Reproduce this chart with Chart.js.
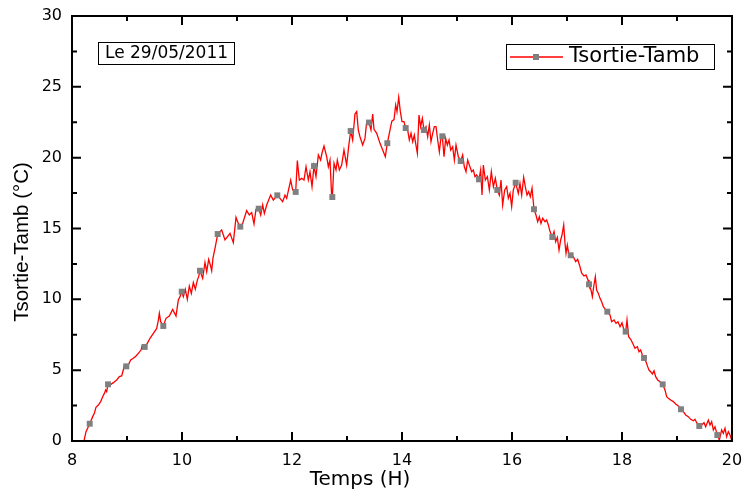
<!DOCTYPE html>
<html>
<head>
<meta charset="utf-8">
<script src="https://cdn.jsdelivr.net/npm/chart.js@4/dist/chart.umd.min.js"></script>
<style>
html,body{margin:0;padding:0;background:#fff;}
#c{display:block;}
</style>
</head>
<body>
<canvas id="c" width="745" height="491"></canvas>
<script>
// ---- Data ----
const times = [
8.218,8.255,8.322,8.376,8.406,8.436,8.479,8.521,8.558,8.588,8.612,8.630,8.655,8.691,8.752,8.812,8.861,8.903,8.933,8.952,
8.987,9.024,9.067,9.115,9.164,9.206,9.255,9.279,9.322,9.369,9.418,9.479,9.540,9.570,9.588,9.612,9.660,9.709,9.769,9.830,
9.891,9.933,9.964,9.995,10.024,10.060,10.097,10.133,10.170,10.206,10.242,10.279,10.303,10.327,10.376,10.418,10.449,10.485,10.521,10.540,
10.564,10.600,10.649,10.721,10.782,10.873,10.933,10.982,11.024,11.060,11.103,11.176,11.224,11.267,11.309,11.345,11.395,11.431,11.467,11.497,
11.540,11.612,11.661,11.733,11.782,11.830,11.873,11.903,11.976,12.012,12.067,12.097,12.133,12.176,12.218,12.255,12.297,12.327,12.364,12.400,
12.436,12.479,12.521,12.545,12.582,12.630,12.661,12.691,12.721,12.733,12.764,12.800,12.824,12.861,12.903,12.945,12.994,13.030,13.067,13.103,
13.145,13.176,13.206,13.236,13.285,13.327,13.358,13.400,13.436,13.467,13.491,13.540,13.600,13.649,13.697,13.733,13.776,13.815,13.855,13.885,
13.909,13.940,13.970,14.000,14.036,14.067,14.103,14.133,14.164,14.194,14.224,14.248,14.279,14.309,14.339,14.370,14.400,14.436,14.467,14.497,
14.527,14.558,14.588,14.618,14.649,14.679,14.703,14.733,14.764,14.794,14.824,14.855,14.885,14.921,14.952,14.982,15.024,15.067,15.103,15.133,
15.164,15.194,15.224,15.267,15.297,15.327,15.358,15.400,15.430,15.455,15.479,15.515,15.552,15.588,15.624,15.661,15.697,15.733,15.770,15.800,
15.830,15.867,15.903,15.933,15.964,15.994,16.024,16.067,16.115,16.145,16.176,16.212,16.242,16.273,16.303,16.333,16.364,16.400,16.436,16.467,
16.497,16.527,16.558,16.600,16.630,16.661,16.691,16.733,16.764,16.794,16.824,16.855,16.885,16.909,16.940,16.964,16.982,17.006,17.030,17.067,
17.115,17.158,17.194,17.236,17.267,17.309,17.345,17.382,17.400,17.436,17.461,17.485,17.515,17.539,17.570,17.600,17.630,17.661,17.697,17.733,
17.782,17.812,17.855,17.891,17.927,17.964,18.000,18.036,18.067,18.091,18.121,18.158,18.194,18.236,18.279,18.309,18.339,18.370,18.400,18.436,
18.467,18.491,18.521,18.552,18.582,18.612,18.649,18.691,18.740,18.782,18.812,18.842,18.885,18.933,18.976,19.024,19.073,19.115,19.158,19.206,
19.249,19.297,19.327,19.358,19.405,19.449,19.491,19.521,19.570,19.600,19.630,19.661,19.691,19.733,19.770,19.812,19.842,19.873,19.903,19.933,
19.964,19.994
];
const temps = [
0.00,0.66,1.22,1.72,1.95,2.38,2.54,2.78,3.13,3.36,3.60,3.48,4.00,3.95,4.12,4.31,4.54,4.59,5.01,5.36,
5.27,5.36,5.72,5.84,6.00,6.19,6.42,6.78,6.64,6.89,7.25,7.60,7.95,8.54,9.01,8.42,8.12,8.66,8.82,9.29,
8.82,9.95,10.19,10.54,10.19,10.71,10.00,10.94,10.42,11.18,10.71,11.36,11.60,12.02,11.48,12.60,11.95,12.82,12.35,12.02,
12.93,13.60,14.61,14.89,14.19,14.66,14.00,15.79,15.36,15.13,15.36,16.26,15.95,16.12,15.32,16.35,16.40,15.95,16.66,16.07,
16.66,17.36,17.01,17.34,17.13,16.89,17.36,17.13,18.42,17.72,17.58,19.79,18.42,18.54,18.42,19.36,18.42,19.01,17.95,19.41,
18.66,20.19,19.83,20.31,20.82,20.07,19.36,19.83,17.25,17.22,19.60,19.13,19.83,19.13,19.48,20.54,19.48,20.78,21.88,21.25,
23.08,23.25,21.95,21.48,20.89,21.36,22.54,22.48,21.95,23.08,22.00,21.72,21.01,20.54,20.07,21.02,21.83,22.58,22.69,23.72,
23.25,24.26,23.25,22.54,22.54,22.09,21.95,21.25,21.72,21.13,21.60,21.01,20.31,23.01,22.19,22.78,21.95,22.19,21.48,22.31,
21.13,21.72,22.19,22.19,21.25,20.42,21.25,21.51,20.07,21.36,20.89,21.25,20.54,20.78,19.83,20.89,20.07,19.76,20.19,19.36,
19.01,19.83,19.48,19.01,19.13,18.66,18.78,18.47,19.13,17.36,19.48,18.42,18.66,17.72,19.01,17.95,18.54,17.72,17.36,18.42,
16.66,17.72,17.95,17.13,17.48,16.54,17.72,18.23,17.48,18.19,17.36,18.61,17.95,17.36,17.60,17.25,17.84,16.36,15.95,15.48,
15.83,15.36,15.72,15.48,15.60,15.25,14.78,14.40,14.78,14.07,14.38,13.48,14.19,14.54,15.25,13.95,13.25,13.83,13.25,13.11,
13.01,12.66,12.82,12.30,11.84,11.65,11.72,11.36,11.06,10.66,10.19,10.89,11.60,10.66,10.42,10.07,9.83,9.48,9.29,9.13,
8.89,8.42,8.54,8.31,8.42,8.07,8.35,7.84,7.72,8.54,7.36,7.18,6.90,6.55,6.66,6.30,6.42,6.07,5.86,5.60,
5.25,5.01,4.89,4.73,4.96,4.54,4.31,4.19,4.00,3.60,3.13,3.01,2.89,2.78,2.61,2.47,2.24,2.07,1.84,1.72,
1.53,1.43,1.53,1.29,1.06,1.13,1.29,1.01,1.48,1.13,1.36,0.78,1.01,0.42,0.07,0.78,0.54,0.90,0.30,0.66,
0.42,0.07
];
// Every-n-th point symbols (grey squares)
const markTimes = [8.322,8.655,8.987,9.322,9.660,9.995,10.327,10.649,11.060,11.395,11.733,12.067,12.400,12.733,13.067,13.400,13.733,14.067,14.400,14.733,15.067,15.400,15.733,16.067,16.400,16.733,17.067,17.400,17.733,18.067,18.400,18.740,19.073,19.405,19.733];
const markTemps = [1.22,4.00,5.27,6.64,8.12,10.54,12.02,14.61,15.13,16.40,17.34,17.58,19.41,17.22,21.88,22.48,21.02,22.09,21.95,21.51,19.76,18.47,17.72,18.23,16.36,14.40,13.11,11.06,9.13,7.72,5.86,4.00,2.24,1.06,0.42];

const xTicks = [8,10,12,14,16,18,20];
const yTicks = [0,5,10,15,20,25,30];
const xMinor = [9,11,13,15,17,19];
const yMinor = [2.5,7.5,12.5,17.5,22.5,27.5];

const seriesName = 'Tsortie-Tamb';
const dateLabel = 'Le 29/05/2011';
const xTitle = 'Temps (H)';
const yTitle = 'Tsortie-Tamb (°C)';

const lineColor = '#ff0000';
const markColor = '#808080';

const lineData = times.map((t,i)=>({x:t,y:temps[i]}));
const markData = markTimes.map((t,i)=>({x:t,y:markTemps[i]}));

const decor = {
  id:'decor',
  beforeDraw(chart){
    const ctx=chart.ctx; ctx.save(); ctx.fillStyle='#fff'; ctx.fillRect(0,0,chart.width,chart.height); ctx.restore();
  },
  afterDraw(chart){
    const {ctx, chartArea:a, scales:{x,y}} = chart;
    ctx.save();
    ctx.strokeStyle='#000'; ctx.lineWidth=2; ctx.lineCap='butt';
    ctx.strokeRect(a.left,a.top,a.right-a.left,a.bottom-a.top);
    ctx.beginPath();
    const tickX=(v,L)=>{const p=x.getPixelForValue(v); ctx.moveTo(p,a.bottom); ctx.lineTo(p,a.bottom-L); ctx.moveTo(p,a.top); ctx.lineTo(p,a.top+L);};
    const tickY=(v,L)=>{const p=y.getPixelForValue(v); ctx.moveTo(a.left,p); ctx.lineTo(a.left+L,p); ctx.moveTo(a.right,p); ctx.lineTo(a.right-L,p);};
    xTicks.forEach(v=>tickX(v,9)); xMinor.forEach(v=>tickX(v,5));
    yTicks.forEach(v=>tickY(v,9)); yMinor.forEach(v=>tickY(v,5));
    ctx.stroke();

    // date box
    ctx.lineWidth=1;
    ctx.strokeRect(98.5,42.5,136,22);
    ctx.fillStyle='#000';
    ctx.font='17px "DejaVu Sans"';
    ctx.textAlign='center'; ctx.textBaseline='middle';
    ctx.fillText(dateLabel,166.5,54);

    // legend
    ctx.strokeRect(506.5,44.5,208,25);
    ctx.strokeStyle=lineColor; ctx.lineWidth=1.3;
    ctx.beginPath(); ctx.moveTo(510,57); ctx.lineTo(563,57); ctx.stroke();
    ctx.fillStyle=markColor; ctx.fillRect(533,54,6,6);
    ctx.fillStyle='#000';
    ctx.font='21px "DejaVu Sans"';
    ctx.textAlign='left'; ctx.textBaseline='middle';
    ctx.fillText(seriesName,569,57);

    // axis titles
    ctx.font='20px "DejaVu Sans"';
    ctx.textAlign='center'; ctx.textBaseline='middle';
    ctx.fillText(xTitle,360,480);
    ctx.save();
    ctx.translate(22,242);
    ctx.rotate(-Math.PI/2);
    ctx.font='20.5px "Liberation Sans"';
    ctx.fillText(yTitle,0,0);
    ctx.restore();
    ctx.restore();
  }
};

new Chart(document.getElementById('c'), {
  type:'line',
  data:{
    datasets:[
      {label:seriesName+' marks', data:markData, showLine:false, pointStyle:'rect', pointRadius:4.2, pointHoverRadius:4.2,
       backgroundColor:markColor, borderColor:markColor, pointBorderWidth:0, order:0},
      {label:seriesName, data:lineData, borderColor:lineColor, borderWidth:1.3, pointRadius:0, tension:0, fill:false, order:1}
    ]
  },
  options:{
    responsive:false, animation:false, devicePixelRatio:1,
    layout:{padding:{top:16,right:13,left:0,bottom:0}},
    plugins:{legend:{display:false}, tooltip:{enabled:false}},
    scales:{
      x:{type:'linear', min:8, max:20,
         afterFit(s){s.height=50; s.paddingLeft=0; s.paddingRight=0;},
         afterBuildTicks(s){s.ticks=xTicks.map(v=>({value:v}));},
         grid:{display:false, drawTicks:false}, border:{display:false},
         ticks:{font:{family:'DejaVu Sans',size:16}, color:'#000', padding:10, maxRotation:0}},
      y:{min:0, max:30,
         afterFit(s){s.width=72; s.paddingTop=0; s.paddingBottom=0;},
         afterBuildTicks(s){s.ticks=yTicks.map(v=>({value:v}));},
         grid:{display:false, drawTicks:false}, border:{display:false},
         ticks:{font:{family:'DejaVu Sans',size:16}, color:'#000', padding:10}}
    }
  },
  plugins:[decor]
});
</script>
</body>
</html>
